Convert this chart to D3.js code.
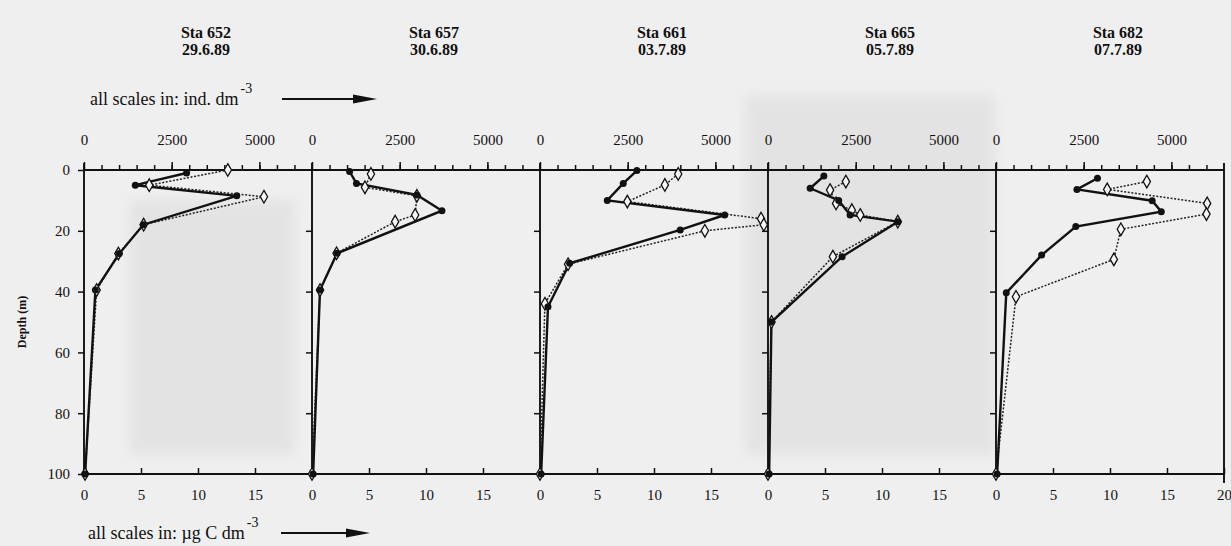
<!DOCTYPE html>
<html>
<head>
<meta charset="utf-8">
<script src="https://cdn.jsdelivr.net/npm/d3@7/dist/d3.min.js"></script>
<style>
  html, body { margin: 0; padding: 0; background: #eeeeee; }
  svg { display: block; }
  text { font-family: "Liberation Serif", "Times New Roman", serif; fill: #111; }
  .tick text { font-family: "Liberation Serif", "Times New Roman", serif !important; }
</style>
</head>
<body>
<svg id="chart" width="1231" height="546"></svg>
<script>
// ---- data ----
const stations = ["Sta 652", "Sta 657", "Sta 661", "Sta 665", "Sta 682"];
const dates = ["29.6.89", "30.6.89", "03.7.89", "05.7.89", "07.7.89"];
const depthTicks = [0, 20, 40, 60, 80, 100];
const indTickLabels = [0, 2500, 5000];
const carbonTickLabels = [0, 5, 10, 15];

// carbon biomass (µg C dm-3), solid line, filled circles: [depth m, value]
const carbon652 = [[1, 9.0], [5, 4.5], [8.5, 13.4], [18, 5.2], [27.5, 3.1], [39.5, 1.0], [100, 0.1]];
const carbon657 = [[0.5, 3.3], [4.4, 3.9], [8.2, 9.2], [13.4, 11.4], [27.4, 2.2], [39.5, 0.7], [100, 0.1]];
const carbon661 = [[0.2, 8.5], [4.4, 7.3], [10, 5.9], [14.8, 16.2], [19.7, 12.3], [30.7, 2.6], [45, 0.7], [100, 0.1]];
const carbon665 = [[2, 4.9], [6, 3.7], [10, 6.2], [14.8, 7.2], [17, 11.4], [28.5, 6.5], [50, 0.3], [100, 0.1]];
const carbon682 = [[2.7, 8.9], [6.4, 7.1], [10.1, 13.7], [13.7, 14.5], [18.6, 7.0], [28, 4.0], [40.4, 0.9], [100, 0.1]];

// abundance (ind. dm-3), dotted line, open diamonds: [depth m, value]
const abund652 = [[0, 4100], [5, 1860], [8.8, 5130], [18, 1700], [27.5, 980], [39.5, 360], [100, 30]];
const abund657 = [[1.3, 1680], [5.7, 1510], [8.5, 2990], [14.8, 2940], [17, 2370], [27.4, 700], [39.5, 230], [100, 0]];
const abund661 = [[1.3, 3940], [4.9, 3560], [10.4, 2490], [16, 6300], [18, 6380], [20, 4700], [31, 800], [44, 140], [100, 0]];
const abund665 = [[3.8, 2220], [6.6, 1770], [11, 1940], [13.2, 2390], [14.8, 2630], [17, 3700], [28.5, 1850], [50, 100], [100, 0]];
const abund682 = [[3.8, 4300], [6.4, 3170], [11, 6020], [14.5, 6000], [19.5, 3560], [29.4, 3360], [41.7, 570], [100, 0]];

const carbonSeries = [carbon652, carbon657, carbon661, carbon665, carbon682];
const abundSeries = [abund652, abund657, abund661, abund665, abund682];

// ---- layout ----
const svg = d3.select("#chart");
const W = 1231, H = 546;
const yTop = 170, yBottom = 474;
const panelLeft = d3.scaleLinear().domain([0, 5]).range([84, 1224]);
const y = d3.scaleLinear().domain([0, 100]).range([yTop, yBottom]);
const SERIF = "'Liberation Serif', 'Times New Roman', serif";

// paper background with faint, blurred scan shading
svg.append("defs").append("filter").attr("id", "blur")
  .attr("x", "-20%").attr("y", "-20%").attr("width", "140%").attr("height", "140%")
  .append("feGaussianBlur").attr("stdDeviation", 6);
svg.append("rect").attr("width", W).attr("height", H).attr("fill", "#efefef");
const shade = svg.append("g").attr("fill", "#d6d6d6").attr("opacity", 0.45).attr("filter", "url(#blur)");
shade.append("rect").attr("x", 130).attr("y", 200).attr("width", 165).attr("height", 255);
shade.append("rect").attr("x", 745).attr("y", 95).attr("width", 250).attr("height", 360);

const g = svg.append("g");

stations.forEach((name, i) => {
  const x0 = panelLeft(i), x1 = panelLeft(i + 1);
  const xC = d3.scaleLinear().domain([0, 20]).range([x0, x1]);
  const xI = d3.scaleLinear().domain([0, 6500]).range([x0, x1]);
  const p = g.append("g");

  // titles
  p.append("text").attr("x", (x0 + x1) / 2 + 8).attr("y", 38)
    .attr("text-anchor", "middle").attr("font-weight", "bold").style("font-size", "16px").text(name);
  p.append("text").attr("x", (x0 + x1) / 2 + 8).attr("y", 55)
    .attr("text-anchor", "middle").attr("font-weight", "bold").style("font-size", "16px").text(dates[i]);

  // top axis minor ticks
  const minor = d3.axisTop(xI).tickValues(d3.range(500, 6500, 500)).tickSize(5).tickFormat("");
  const ma = p.append("g").attr("transform", `translate(0,${yTop})`).call(minor);
  ma.select(".domain").remove();
  // top axis major ticks + labels
  const major = d3.axisTop(xI).tickValues(indTickLabels).tickSize(8).tickPadding(17)
    .tickFormat(d3.format("d"));
  const mj = p.append("g").attr("transform", `translate(0,${yTop})`).call(major);
  mj.select(".domain").remove();

  // bottom axis
  const bVals = i === 4 ? carbonTickLabels.concat([20]) : carbonTickLabels;
  const bAxis = d3.axisBottom(xC).tickValues(bVals).tickSizeInner(-6).tickSizeOuter(0).tickPadding(15)
    .tickFormat(d3.format("d"));
  const ba = p.append("g").attr("transform", `translate(0,${yBottom})`).call(bAxis);
  ba.select(".domain").remove();

  // left axis
  const lAxis = d3.axisLeft(y).tickValues(i === 0 ? depthTicks : depthTicks.slice(1, 5))
    .tickSize(6).tickPadding(8).tickFormat(i === 0 ? d3.format("d") : "");
  const la = p.append("g").attr("transform", `translate(${x0},0)`).call(lAxis);
  la.select(".domain").remove();

  [ma, mj, ba, la].forEach(a => a.attr("font-family", SERIF).attr("font-size", 15));

  // frame lines
  p.append("line").attr("x1", x0).attr("x2", x0).attr("y1", yTop - 7).attr("y2", yBottom + 3);
  p.append("line").attr("x1", x0).attr("x2", x1).attr("y1", yTop).attr("y2", yTop);
  p.append("line").attr("x1", x0).attr("x2", x1).attr("y1", yBottom).attr("y2", yBottom);
  if (i === 4) p.append("line").attr("x1", x1).attr("x2", x1).attr("y1", yTop - 7).attr("y2", yBottom + 9);

  // dotted abundance line
  const lineI = d3.line().x(d => xI(d[1])).y(d => y(d[0]));
  p.append("path").datum(abundSeries[i]).attr("d", lineI)
    .attr("fill", "none").attr("stroke", "#222").attr("stroke-width", 1.5)
    .attr("stroke-dasharray", "2,1.6");

  // solid carbon line
  const lineC = d3.line().x(d => xC(d[1])).y(d => y(d[0]));
  p.append("path").datum(carbonSeries[i]).attr("d", lineC)
    .attr("fill", "none").attr("stroke", "#111").attr("stroke-width", 2.4);

  // diamonds
  p.selectAll("path.dia").data(abundSeries[i]).join("path").attr("class", "dia")
    .attr("d", d3.symbol().type(d3.symbolDiamond).size(46))
    .attr("transform", d => `translate(${xI(d[1])},${y(d[0])})`)
    .attr("fill", "#f6f6f6").attr("stroke", "#111").attr("stroke-width", 1.3);

  // filled circles
  p.selectAll("circle.dot").data(carbonSeries[i]).join("circle").attr("class", "dot")
    .attr("cx", d => xC(d[1])).attr("cy", d => y(d[0])).attr("r", 3.5).attr("fill", "#111");
});

g.selectAll("line").attr("stroke", "#111").attr("stroke-width", 1.9);
g.selectAll(".tick line").attr("stroke", "#111").attr("stroke-width", 1.5);
g.selectAll(".tick text").style("font-family", SERIF).style("font-size", "15px").attr("fill", "#111");

// unit notes with arrows
function note(x, yy, txt, arrowX0, arrowX1, arrowY) {
  const t = svg.append("text").attr("x", x).attr("y", yy).style("font-size", "18px").style("font-family", SERIF);
  t.append("tspan").text(txt);
  t.append("tspan").attr("dx", 2).attr("dy", -12).style("font-size", "14px").text("-3");
  svg.append("line").attr("x1", arrowX0).attr("x2", arrowX1 - 14).attr("y1", arrowY).attr("y2", arrowY)
    .attr("stroke", "#111").attr("stroke-width", 1.9);
  svg.append("path").attr("d", `M${arrowX1},${arrowY} L${arrowX1 - 24},${arrowY - 4.5} L${arrowX1 - 24},${arrowY + 4.5} Z`)
    .attr("fill", "#111");
}
note(90, 105, "all scales in: ind. dm", 282, 377, 99);
note(88, 539, "all scales in: \u00b5g C dm", 281, 370, 533);

// depth label
svg.append("text").attr("transform", "translate(26,322) rotate(-90)")
  .attr("text-anchor", "middle").style("font-size", "12px").attr("font-weight", "bold").text("Depth (m)");
</script>
</body>
</html>
